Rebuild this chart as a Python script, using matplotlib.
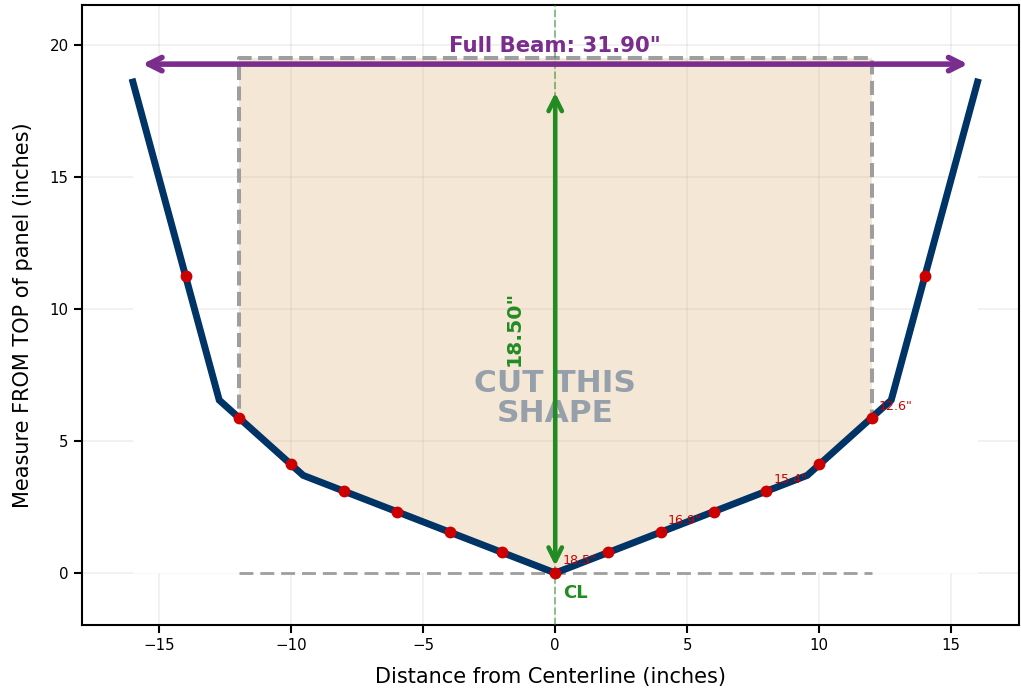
import numpy as np
import matplotlib
matplotlib.use("Agg")
import matplotlib.pyplot as plt
from matplotlib.patches import Rectangle

# hull outline (half-breadth in inches, depth above keel in inches)
hull_x = [-16.0, -12.73, -9.55, 0.0, 9.55, 12.73, 16.0]
hull_y = [18.6, 6.55, 3.7, 0.0, 3.7, 6.55, 18.6]

# measured stations
station_x = [-14, -12, -10, -8, -6, -4, -2, 0, 2, 4, 6, 8, 10, 12, 14]
station_y = [11.25, 5.87, 4.13, 3.1, 2.33, 1.55, 0.78, 0.0,
             0.78, 1.55, 2.33, 3.1, 4.13, 5.87, 11.25]

# labelled stations (measure from top of panel)
label_x = [0, 4, 8, 12]
label_y = [0.0, 1.55, 3.1, 5.87]
label_txt = ['18.5"', '16.9"', '15.4"', '12.6"']

beam = 31.90
depth = 18.50
panel_half = 12
panel_top = 19.5

fig = plt.figure(figsize=(10.21, 6.93), dpi=100)
ax = fig.add_axes([0.0803, 0.0981, 0.9177, 0.8947])

ax.grid(True, color="#b0b0b0", alpha=0.2, lw=1.2)
ax.set_axisbelow(True)

# panel to cut
ax.add_patch(Rectangle((-panel_half, 0), 2 * panel_half, panel_top,
                       facecolor="#dcaa6c", alpha=0.28, edgecolor="none", zorder=1))
ax.plot([-panel_half, -panel_half, panel_half, panel_half],
        [0, panel_top, panel_top, 0], ls="--", color="#9e9e9e", lw=2.9,
        dashes=(3.5, 1.6), zorder=1.5)
# blank out area under the hull
ax.fill_between(hull_x, 0, hull_y, color="white", zorder=2, lw=0)
ax.plot([-panel_half, panel_half], [0, 0], ls="--", color="#9e9e9e", lw=2,
        dashes=(5, 2.5), zorder=2.5)

# centerline
ax.axvline(0, color="forestgreen", ls="--", lw=1.4, alpha=0.5, zorder=2.6)

ax.plot(hull_x, hull_y, color="#003366", lw=5, zorder=3, solid_joinstyle="miter")
ax.plot(station_x, station_y, "o", color="#cc0000", ms=7.5, zorder=4)

for x, y, t in zip(label_x, label_y, label_txt):
    ax.annotate(t, (x, y), xytext=(5, 4), textcoords="offset points",
                color="#cc0000", fontsize=9.1, ha="left", va="bottom", zorder=5)

# beam arrow
ax.annotate("", xy=(15.64, 19.28), xytext=(-15.64, 19.28),
            arrowprops=dict(arrowstyle="<->,head_length=0.6,head_width=0.3",
                            color="#7b2d8e", lw=4, shrinkA=0, shrinkB=0,
                            mutation_scale=16), zorder=5)
ax.text(0, 19.58, f'Full Beam: {beam:.2f}"', color="#7b2d8e", fontsize=15.3,
        fontweight="bold", ha="center", va="bottom", zorder=5)

# depth arrow
ax.annotate("", xy=(0, 18.2), xytext=(0, 0.27),
            arrowprops=dict(arrowstyle="<->,head_length=0.6,head_width=0.3",
                            color="forestgreen", lw=3.3, shrinkA=0, shrinkB=0,
                            mutation_scale=16), zorder=5)
ax.text(-1.55, 9.28, f'{depth:.2f}"', color="forestgreen", fontsize=14.7,
        fontweight="bold", rotation=90, ha="center", va="center", zorder=5)

ax.text(0, 6.6, "CUT THIS\nSHAPE", color="#96a0aa", fontsize=22.5,
        fontweight="bold", ha="center", va="center", multialignment="center",
        linespacing=1.05, zorder=4.5)
ax.text(0.3, -0.75, "CL", color="forestgreen", fontsize=13, fontweight="bold",
        ha="left", va="center", zorder=5)

ax.set_xlim(-17.93, 17.57)
ax.set_ylim(-1.97, 21.52)
ax.set_xticks([-15, -10, -5, 0, 5, 10, 15])
ax.set_yticks([0, 5, 10, 15, 20])
ax.tick_params(labelsize=10.8, length=6, width=1.5, direction="out")
for s in ax.spines.values():
    s.set_linewidth(1.5)
ax.set_xlabel("Distance from Centerline (inches)", fontsize=15, labelpad=10)
ax.set_ylabel("Measure FROM TOP of panel (inches)", fontsize=15, labelpad=12)

fig.savefig("out.png", dpi=100)
